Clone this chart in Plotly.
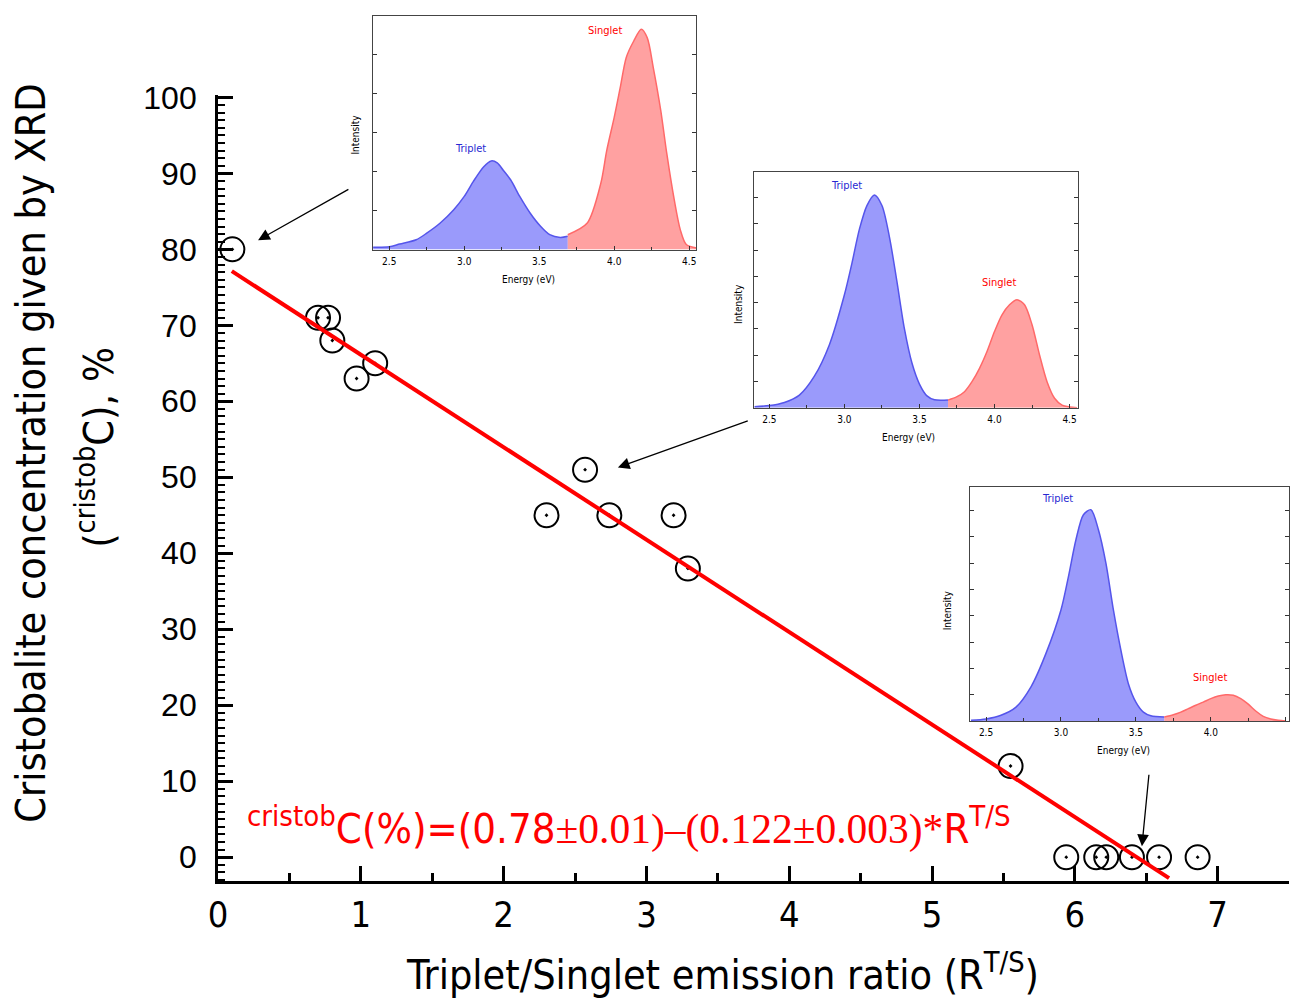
import plotly.graph_objects as go

W, H = 1290, 1002

# ---------------- main data ----------------
ratio = [0.10, 0.70, 0.77, 0.80, 0.97, 1.10, 2.30, 2.57, 2.74, 3.19, 3.29,
         5.55, 5.94, 6.15, 6.22, 6.40, 6.59, 6.86]
cristob = [80, 71, 71, 68, 63, 65, 45, 51, 45, 45, 38,
           12, 0, 0, 0, 0, 0, 0]
fit_intercept = 78.3
fit_slope = -12.17
fit_x = [0.096, 6.66]

x_ticks = [0, 1, 2, 3, 4, 5, 6, 7]
y_ticks = [0, 10, 20, 30, 40, 50, 60, 70, 80, 90, 100]

# ---------------- inset spectra ----------------
tri1_E = [2.39, 2.50, 2.57, 2.68, 2.75, 2.84, 2.93, 3.00, 3.06, 3.13, 3.18, 3.22,
          3.26, 3.31, 3.37, 3.44, 3.51, 3.57, 3.64, 3.69]
tri1_I = [0.06, 0.07, 0.14, 0.25, 0.42, 0.68, 1.02, 1.36, 1.74, 2.12, 2.27, 2.22,
          2.03, 1.78, 1.36, 0.93, 0.59, 0.38, 0.31, 0.34]
sing1_E = [3.69, 3.82, 3.91, 3.95, 4.00, 4.04, 4.08, 4.13, 4.18, 4.22, 4.26,
           4.31, 4.35, 4.40, 4.44, 4.48, 4.55]
sing1_I = [0.38, 0.68, 1.69, 2.54, 3.39, 4.15, 4.92, 5.34, 5.64, 5.42, 4.66,
           3.56, 2.46, 1.27, 0.51, 0.13, 0.04]

tri2_E = [2.40, 2.50, 2.60, 2.70, 2.80, 2.90, 3.00, 3.05, 3.10, 3.15, 3.20, 3.25,
          3.30, 3.35, 3.40, 3.45, 3.50, 3.55, 3.60, 3.69]
tri2_I = [0.04, 0.08, 0.20, 0.48, 1.20, 2.40, 4.30, 5.50, 6.80, 7.70, 8.10, 7.70,
          6.50, 4.80, 3.00, 1.70, 0.90, 0.45, 0.30, 0.29]
sing2_E = [3.69, 3.75, 3.80, 3.85, 3.90, 3.95, 4.00, 4.05, 4.10, 4.15, 4.20, 4.25,
           4.30, 4.35, 4.40, 4.45, 4.50, 4.55]
sing2_I = [0.29, 0.42, 0.61, 0.99, 1.50, 2.14, 2.90, 3.54, 3.92, 4.11, 3.92, 3.16,
           2.01, 0.99, 0.36, 0.10, 0.03, 0.0]

tri3_E = [2.40, 2.50, 2.60, 2.70, 2.80, 2.90, 3.00, 3.05, 3.10, 3.15, 3.20, 3.25,
          3.30, 3.35, 3.40, 3.45, 3.50, 3.55, 3.60, 3.69]
tri3_I = [0.03, 0.08, 0.22, 0.53, 1.30, 2.57, 4.22, 5.49, 6.89, 7.84, 8.03, 7.27,
          6.00, 4.22, 2.69, 1.42, 0.72, 0.34, 0.20, 0.15]
sing3_E = [3.69, 3.75, 3.80, 3.85, 3.90, 3.95, 4.00, 4.05, 4.10, 4.15, 4.20, 4.25,
           4.30, 4.35, 4.40, 4.45, 4.50]
sing3_I = [0.15, 0.24, 0.34, 0.47, 0.60, 0.72, 0.85, 0.95, 1.00, 0.98, 0.85, 0.64,
           0.38, 0.18, 0.08, 0.03, 0.0]

NARROW = "Liberation Sans Narrow, Arial Narrow, DejaVu Sans Condensed, sans-serif"
SANS = "Liberation Sans, Arial, sans-serif"
SERIF = "Liberation Serif, Times New Roman, serif"

BLUE_LINE = "rgb(85,85,235)"
BLUE_FILL = "rgba(120,120,250,0.75)"
RED_LINE = "rgb(255,105,105)"
RED_FILL = "rgba(255,130,130,0.75)"

# observed screen mapping of the page (layout px -> screen px), compensated here
OX, SX = 10.0, 0.991
OY, SY = 16.7, 0.983


def clamp(v):
    return max(0.0, min(1.0, v))


def px(x):
    return clamp(((x - OX) / SX) / W)


def py(y):
    return clamp(1 - ((y - OY) / SY) / H)


fig = go.Figure()

# data points
fig.add_trace(go.Scatter(
    x=ratio, y=cristob, mode="markers", xaxis="x", yaxis="y",
    marker=dict(symbol="circle-open-dot", size=24, color="black",
                line=dict(width=2, color="black")),
    showlegend=False, hoverinfo="skip"))

# fit line
fit_y = [fit_intercept + fit_slope * v for v in fit_x]
fig.add_trace(go.Scatter(
    x=fit_x, y=fit_y, mode="lines", xaxis="x", yaxis="y",
    line=dict(color="red", width=4), showlegend=False, hoverinfo="skip"))

# insets
insets = [
    (tri1_E, tri1_I, sing1_E, sing1_I, "2"),
    (tri2_E, tri2_I, sing2_E, sing2_I, "3"),
    (tri3_E, tri3_I, sing3_E, sing3_I, "4"),
]
for tE, tI, sE, sI, k in insets:
    fig.add_trace(go.Scatter(
        x=tE, y=tI, mode="lines", fill="tozeroy", fillcolor=BLUE_FILL,
        line=dict(color=BLUE_LINE, width=1.5, shape="spline", smoothing=0.8),
        xaxis="x" + k, yaxis="y" + k, showlegend=False, hoverinfo="skip"))
    fig.add_trace(go.Scatter(
        x=sE, y=sI, mode="lines", fill="tozeroy", fillcolor=RED_FILL,
        line=dict(color=RED_LINE, width=1.5, shape="spline", smoothing=0.8),
        xaxis="x" + k, yaxis="y" + k, showlegend=False, hoverinfo="skip"))

layout = dict(
    width=W, height=H, autosize=False,
    margin=dict(l=0, r=0, t=0, b=0),
    paper_bgcolor="white", plot_bgcolor="white",
    xaxis=dict(
        domain=[px(218), 1.0], range=[0, 7.5], anchor="y",
        tickvals=x_ticks, ticks="inside", ticklen=15, tickwidth=2.5,
        tickcolor="black", showline=True, linewidth=3, linecolor="black",
        showgrid=False, zeroline=False,
        tickfont=dict(family=NARROW, size=36, color="black"),
        ticklabelstandoff=0,
        minor=dict(dtick=0.5, ticks="inside", ticklen=8, tickwidth=2.5,
                   tickcolor="black", showgrid=False),
    ),
    yaxis=dict(
        domain=[py(881), py(96)], range=[-3.16, 100.26], anchor="x",
        tickvals=y_ticks, ticks="inside", ticklen=15, tickwidth=2.5,
        tickcolor="black", showline=True, linewidth=3, linecolor="black",
        showgrid=False, zeroline=False,
        tickfont=dict(family=SANS, size=32, color="black"),
        ticklabelstandoff=12,
        minor=dict(dtick=1, ticks="inside", ticklen=7, tickwidth=2,
                   tickcolor="black", showgrid=False),
    ),
)

inset_boxes = [
    ((373, 696, 15, 250), [2.393, 4.547], [0, 5.98]),
    ((754, 1077, 173, 408), [2.40, 4.553], [0, 8.96]),
    ((970, 1290, 487, 721), [2.396, 4.522], [0, 8.9]),
]
for i, ((x0, x1, y0, y1), xr, yr) in enumerate(inset_boxes):
    k = str(i + 2)
    layout["xaxis" + k] = dict(
        domain=[px(x0), px(x1)], range=xr, anchor="y" + k,
        dtick=0.5, tick0=2.5, tickformat=".1f", ticks="inside", ticklen=4,
        tickwidth=1, tickcolor="#333", showline=True, mirror=True,
        linewidth=1, linecolor="#444", showgrid=False, zeroline=False,
        tickfont=dict(family=NARROW, size=10, color="black"),
        ticklabelstandoff=2,
        minor=dict(dtick=0.25, ticks="inside", ticklen=3, tickwidth=1,
                   tickcolor="#333", showgrid=False),
    )
    layout["yaxis" + k] = dict(
        domain=[py(y1), py(y0)], range=yr, anchor="x" + k,
        dtick=1, ticks="inside", ticklen=4, tickwidth=1, tickcolor="#333",
        showticklabels=False, showline=True, mirror="ticks",
        linewidth=1, linecolor="#444", showgrid=False, zeroline=False,
    )

fig.update_layout(**layout)

ann = []


def text(x, y, s, size, color="black", family=NARROW, angle=0, xa="center", ya="middle"):
    ann.append(dict(x=px(x), y=py(y), xref="paper", yref="paper", text=s,
                    showarrow=False, textangle=angle, xanchor=xa, yanchor=ya,
                    font=dict(family=family, size=size, color=color)))


# axis titles
text(31, 453, "Cristobalite concentration given by XRD", 41, angle=-90)
text(95, 448, "(<sup>cristob</sup>C), %", 41, angle=-90)
text(722, 972, "Triplet/Singlet emission ratio (R<sup>T/S</sup>)", 41)

# equation
eq = ("<sup>cristob</sup>C(%)=(0.78<span style='font-family:" + SERIF + "'>"
      "±0.01)–(0.122±0.003)*</span>R<sup>T/S</sup>")
text(245, 826, eq, 41.5, color="red", xa="left")

# inset labels
inset_labels = [
    ((470, 149), (605, 31), 355, (528, 280), 135),
    ((846, 186), (999, 283), 738, (908, 438), 304),
    ((1057, 499), (1209, 678), 947, (1123, 750), 610),
]
for (tx, ty), (sx, sy), ix, (ex, ey), iy in inset_labels:
    text(tx, ty, "Triplet", 11, color="rgb(40,40,210)")
    text(sx, sy, "Singlet", 11, color="red")
    text(ix, iy, "Intensity", 10, angle=-90)
    text(ex, ey, "Energy (eV)", 10)

# arrows (data coordinates of main axes)
arrows = [((0.923, 88.0), (0.28, 81.2)),
          ((3.72, 57.5), (2.80, 51.3)),
          ((6.52, 11.05), (6.47, 1.45))]
for (ax_, ay_), (hx, hy) in arrows:
    ann.append(dict(x=hx, y=hy, ax=ax_, ay=ay_, xref="x", yref="y",
                    axref="x", ayref="y", showarrow=True, arrowhead=2,
                    arrowsize=1.8, arrowwidth=1.3, arrowcolor="black", text=""))

fig.update_layout(annotations=ann)

fig.write_html("out.html")
